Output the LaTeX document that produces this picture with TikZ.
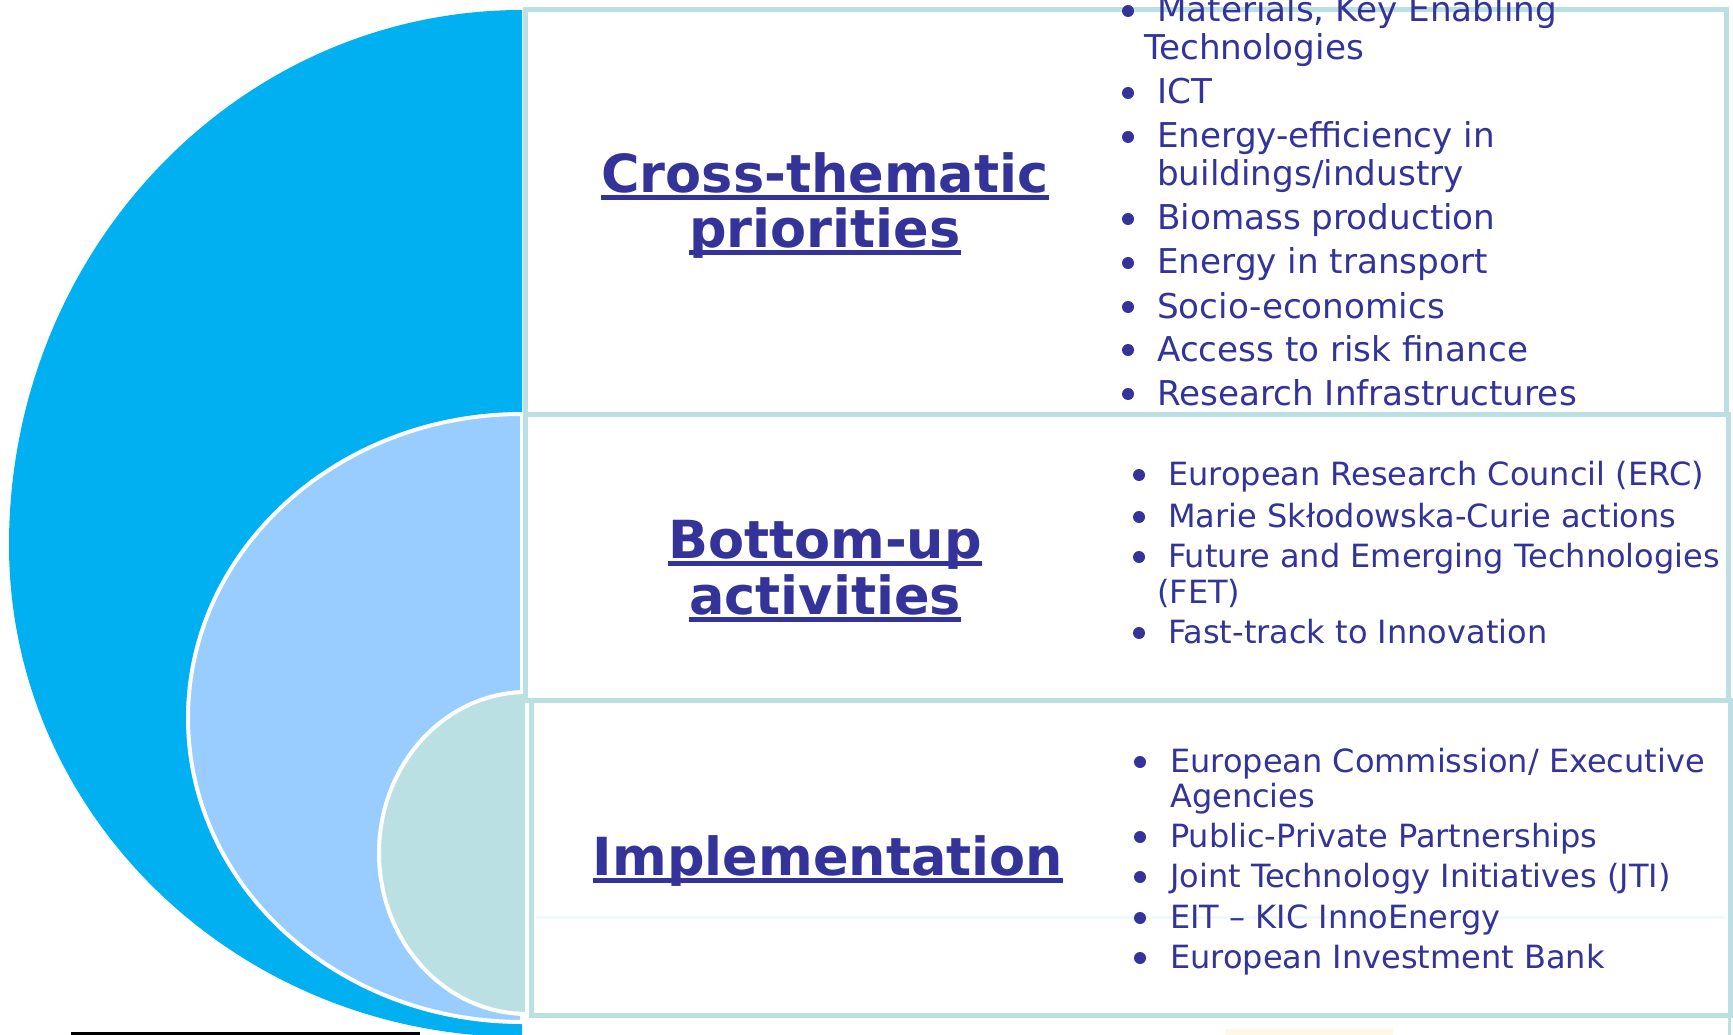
\documentclass[tikz,border=0pt]{standalone}
\usepackage{fontspec}
\setmainfont{DejaVu Sans}
\definecolor{navy}{HTML}{333399}
\definecolor{outerc}{HTML}{00B0F0}
\definecolor{midc}{HTML}{99CCFF}
\definecolor{innerc}{HTML}{BBE0E3}
\definecolor{framec}{HTML}{BBE0E3}
\definecolor{baseline}{HTML}{1C1CA6}
\definecolor{faintc}{HTML}{F2F9FA}
\definecolor{creamc}{HTML}{FFF8E6}
\begin{document}
\begin{tikzpicture}[x=1pt,y=-1pt,
  heading/.style={anchor=base, font=\fontsize{52.5}{60}\selectfont\bfseries, text=navy, inner sep=0pt},
  itemtext/.style={anchor=base west, text=navy, inner sep=0pt},
  big/.style={font=\fontsize{34.2}{38}\selectfont},
  small/.style={font=\fontsize{32}{36}\selectfont},
  bul/.style={circle, fill=navy, inner sep=0pt, minimum size=12pt},
  frame/.style={draw=framec, line width=5pt, fill=white},
  uline/.style={draw=navy, line width=5pt}]
\useasboundingbox (0,0) rectangle (1733,1035);
\clip (0,0) rectangle (1733,1035);

% nested half discs on the left
\fill[outerc] (522,10)
  arc[start angle=90, end angle=180, x radius=513pt, y radius=535pt]
  arc[start angle=180, end angle=270, x radius=513pt, y radius=492pt] -- cycle;
\filldraw[fill=midc, draw=white, line width=4pt] (522,414)
  arc[start angle=90, end angle=270, x radius=334pt, y radius=304pt] -- cycle;
\filldraw[fill=innerc, draw=white, line width=4pt] (527,692)
  arc[start angle=90, end angle=270, x radius=148pt, y radius=161pt] -- cycle;

% remnants along the bottom edge
\draw[baseline, line width=3pt] (71,1033) -- (420,1033);
\fill[creamc] (1225,1029) rectangle (1393,1035);
\draw[framec, line width=3pt] (1729,1015) -- (1729,1035);

% three list panels
\node[frame, anchor=north west, minimum width=1201pt, minimum height=405pt] (p1) at (523,7) {};
\node[frame, anchor=north west, minimum width=1203pt, minimum height=286pt] (p2) at (523,412) {};
\node[frame, anchor=north west, minimum width=1199pt, minimum height=315pt] (p3) at (529,698) {};
\draw[faintc, line width=3pt] (536,917) -- (1725,917);

% headings
\node[heading] (h1a) at (825,193) {Cross-thematic};
\node[heading] (h1b) at (825,248) {priorities};
\node[heading] (h2a) at (825,558) {Bottom-up};
\node[heading] (h2b) at (825,614) {activities};
\node[heading] (h3a) at (828,875) {Implementation};
\foreach \h in {h1a,h1b,h2a,h2b,h3a}
  \draw[uline] ([yshift=-5pt]\h.base west) -- ([yshift=-5pt]\h.base east);

% first panel items
\begin{scope}[every node/.append style={big}]
\node[bul] (a1) at (1128,11) {};
\node[itemtext] (t1) at (1157,22) {Materials, Key Enabling};
\node[itemtext] (t1b) at (1144,60) {Technologies};
\node[bul] (a2) at (1128,93) {};
\node[itemtext] (t2) at (1157,104) {ICT};
\node[bul] (a3) at (1128,137) {};
\node[itemtext] (t3) at (1157,148) {Energy-efficiency in};
\node[itemtext] (t3b) at (1157,186) {buildings/industry};
\node[bul] (a4) at (1128,219) {};
\node[itemtext] (t4) at (1157,230) {Biomass production};
\node[bul] (a5) at (1128,263) {};
\node[itemtext] (t5) at (1157,274) {Energy in transport};
\node[bul] (a6) at (1128,307) {};
\node[itemtext] (t6) at (1157,318) {Socio-economics};
\node[bul] (a7) at (1128,350) {};
\node[itemtext] (t7) at (1157,361) {Access to risk finance};
\node[bul] (a8) at (1128,394) {};
\node[itemtext] (t8) at (1157,405) {Research Infrastructures};
\end{scope}

% second panel items
\begin{scope}[every node/.append style={small}]
\node[bul] (c1) at (1139,475) {};
\node[itemtext] (u1) at (1168,485) {European Research Council (ERC)};
\node[bul] (c2) at (1139,517) {};
\node[itemtext] (u2) at (1168,527) {Marie Skłodowska-Curie actions};
\node[bul] (c3) at (1139,557) {};
\node[itemtext] (u3) at (1168,567) {Future and Emerging Technologies};
\node[itemtext] (u3b) at (1157,603) {(FET)};
\node[bul] (c4) at (1139,633) {};
\node[itemtext] (u4) at (1168,643) {Fast-track to Innovation};
\end{scope}

% third panel items
\begin{scope}[every node/.append style={small}]
\node[bul] (d1) at (1140,762) {};
\node[itemtext] (v1) at (1170,772) {European Commission/ Executive};
\node[itemtext] (v1b) at (1170,807) {Agencies};
\node[bul] (d2) at (1140,837) {};
\node[itemtext] (v2) at (1170,847) {Public-Private Partnerships};
\node[bul] (d3) at (1140,877) {};
\node[itemtext] (v3) at (1170,887) {Joint Technology Initiatives (JTI)};
\node[bul] (d4) at (1140,918) {};
\node[itemtext] (v4) at (1170,928) {EIT – KIC InnoEnergy};
\node[bul] (d5) at (1140,958) {};
\node[itemtext] (v5) at (1170,968) {European Investment Bank};
\end{scope}
\end{tikzpicture}
\end{document}
